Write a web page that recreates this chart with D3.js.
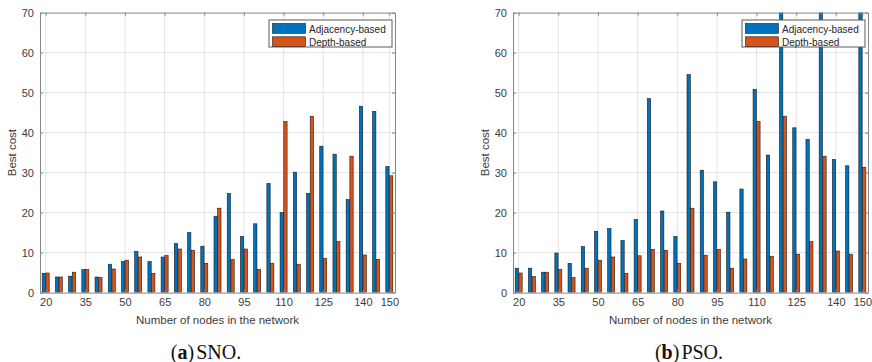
<!DOCTYPE html>
<html>
<head>
<meta charset="utf-8">
<script src="https://cdn.jsdelivr.net/npm/d3@7"></script>
<style>
  html, body { margin: 0; padding: 0; background: #fff; }
  svg { display: block; }
</style>
</head>
<body>
<svg id="fig" width="872" height="362"></svg>
<script>
// Network sizes on the x axis
const nodeCounts = [20, 25, 30, 35, 40, 45, 50, 55, 60, 65, 70, 75, 80, 85, 90,
                    95, 100, 105, 110, 115, 120, 125, 130, 135, 140, 145, 150];
const xTickValues = [20, 35, 50, 65, 80, 95, 110, 125, 140, 150];
const yTickValues = [0, 10, 20, 30, 40, 50, 60, 70];
const seriesNames = ["Adjacency-based", "Depth-based"];
const seriesColors = ["#0072BD", "#D95319"];

// Best cost, SNO
const snoAdjacency = [4.8, 3.9, 4.1, 5.75, 3.9, 7.1, 7.75, 10.25, 7.75, 8.9, 12.25, 15.0, 11.6, 19.1,
                      24.75, 14.0, 17.2, 27.3, 20.0, 30.1, 24.75, 36.6, 34.6, 23.25, 46.6, 45.25, 31.5];
const snoDepth = [4.9, 3.9, 5.1, 5.75, 3.75, 5.9, 8.1, 8.9, 4.8, 9.25, 10.9, 10.6, 7.3, 21.1,
                  8.25, 10.9, 5.8, 7.3, 42.75, 7.1, 44.1, 8.5, 12.75, 34.1, 9.4, 8.3, 29.2];

// Best cost, PSO (three adjacency bars run past the top of the axis)
const psoAdjacency = [6.1, 6.1, 5.1, 9.9, 7.3, 11.5, 15.3, 16.0, 13.0, 18.25, 48.5, 20.4, 14.0, 54.5,
                      30.6, 27.7, 20.1, 25.9, 50.8, 34.4, 78.0, 41.2, 38.3, 82.0, 33.25, 31.7, 88.0];
const psoDepth = [4.9, 4.0, 5.1, 5.75, 3.75, 6.1, 8.1, 8.9, 4.8, 9.2, 10.8, 10.6, 7.3, 21.1,
                  9.35, 10.8, 6.1, 8.4, 42.75, 9.1, 44.1, 9.6, 12.75, 34.1, 10.4, 9.6, 31.3];

const panels = [
  { id: "a", left: 40, right: 395, label: "a", method: "SNO.", capX: 206,
    series: [snoAdjacency, snoDepth] },
  { id: "b", left: 513, right: 868, label: "b", method: "PSO.", capX: 689,
    series: [psoAdjacency, psoDepth] }
];

const TOP = 12.6, BOTTOM = 292.6;
const axisColor = "#858585";
const textColor = "#3c3c3c";
const gridColor = "#e3e3e3";
const sansFont = "'Liberation Sans', Arial, Helvetica, sans-serif";

const svg = d3.select("#fig");

panels.forEach(p => {
  const x = d3.scaleLinear().domain([17.85, 152.15]).range([p.left, p.right]);
  const y = d3.scaleLinear().domain([0, 70]).range([BOTTOM, TOP]);
  const step = x(25) - x(20);
  const barW = step * 0.25;
  const offsets = [-0.14 * step, 0.14 * step];

  const g = svg.append("g");

  // grid
  g.append("g").selectAll("line.vg").data(xTickValues).join("line")
    .attr("x1", d => x(d)).attr("x2", d => x(d))
    .attr("y1", TOP).attr("y2", BOTTOM)
    .attr("stroke", gridColor).attr("stroke-width", 1);
  g.append("g").selectAll("line.hg").data(yTickValues.slice(1, -1)).join("line")
    .attr("x1", p.left).attr("x2", p.right)
    .attr("y1", d => y(d)).attr("y2", d => y(d))
    .attr("stroke", gridColor).attr("stroke-width", 1);

  // bars, clipped to the plot box
  const clipId = "clip-" + p.id;
  svg.append("defs").append("clipPath").attr("id", clipId)
    .append("rect").attr("x", p.left).attr("y", TOP)
    .attr("width", p.right - p.left).attr("height", BOTTOM - TOP);

  const barsG = g.append("g").attr("clip-path", `url(#${clipId})`);
  p.series.forEach((vals, si) => {
    barsG.append("g").selectAll("rect").data(vals).join("rect")
      .attr("x", (d, i) => x(nodeCounts[i]) + offsets[si] - barW / 2)
      .attr("y", d => y(d))
      .attr("width", barW)
      .attr("height", d => y(0) - y(d))
      .attr("fill", seriesColors[si])
      .attr("stroke", "#1a1a1a")
      .attr("stroke-width", 0.6);
  });

  // axes (box with inward ticks on all four sides)
  const xAxisB = d3.axisBottom(x).tickValues(xTickValues).tickSizeInner(-3).tickSizeOuter(0).tickPadding(6);
  const xAxisT = d3.axisTop(x).tickValues(xTickValues).tickSizeInner(-3).tickSizeOuter(0).tickFormat("");
  const yAxisL = d3.axisLeft(y).tickValues(yTickValues).tickSizeInner(-3).tickSizeOuter(0).tickPadding(6);
  const yAxisR = d3.axisRight(y).tickValues(yTickValues).tickSizeInner(-3).tickSizeOuter(0).tickFormat("");

  const styleAxis = sel => {
    sel.select(".domain").attr("stroke", axisColor).attr("stroke-width", 1);
    sel.selectAll(".tick line").attr("stroke", axisColor).attr("stroke-width", 1);
    sel.selectAll(".tick text").attr("fill", textColor)
      .attr("font-family", sansFont).attr("font-size", "11px");
  };

  g.append("g").attr("transform", `translate(0,${BOTTOM})`).call(xAxisB).call(styleAxis);
  g.append("g").attr("transform", `translate(0,${TOP})`).call(xAxisT).call(styleAxis);
  g.append("g").attr("transform", `translate(${p.left},0)`).call(yAxisL).call(styleAxis);
  g.append("g").attr("transform", `translate(${p.right},0)`).call(yAxisR).call(styleAxis);

  // axis titles
  g.append("text")
    .attr("x", (p.left + p.right) / 2).attr("y", 324)
    .attr("text-anchor", "middle")
    .attr("font-family", sansFont).attr("font-size", "11.5px")
    .attr("fill", textColor)
    .text("Number of nodes in the network");
  g.append("text")
    .attr("transform", `translate(${p.left - 24},${(TOP + BOTTOM) / 2}) rotate(-90)`)
    .attr("text-anchor", "middle")
    .attr("font-family", sansFont).attr("font-size", "11.5px")
    .attr("fill", textColor)
    .text("Best cost");

  // legend
  const lx = p.right - 126, ly = 20, lw = 123, lh = 27;
  const lg = g.append("g");
  lg.append("rect").attr("x", lx).attr("y", ly).attr("width", lw).attr("height", lh)
    .attr("fill", "#fff").attr("stroke", "#5a5a5a").attr("stroke-width", 1);
  seriesNames.forEach((name, i) => {
    lg.append("rect")
      .attr("x", lx + 3.5).attr("y", ly + 3.5 + i * 13.3)
      .attr("width", 33).attr("height", 9.8)
      .attr("fill", seriesColors[i]).attr("stroke", "#1a1a1a").attr("stroke-width", 0.6);
    lg.append("text")
      .attr("x", lx + 40).attr("y", ly + 12.5 + i * 13.3)
      .attr("font-family", sansFont).attr("font-size", "10px")
      .attr("fill", "#262626")
      .text(name);
  });

  // sub-figure caption
  const cap = svg.append("text")
    .attr("x", p.capX).attr("y", 359)
    .attr("text-anchor", "middle")
    .attr("font-family", "'Liberation Serif', 'Times New Roman', serif")
    .attr("font-size", "20px")
    .attr("fill", "#111");
  cap.append("tspan").text("(");
  cap.append("tspan").attr("font-weight", "bold").text(p.label);
  cap.append("tspan").text(")");
  cap.append("tspan").attr("dx", 2).text(p.method);
});
</script>
</body>
</html>
